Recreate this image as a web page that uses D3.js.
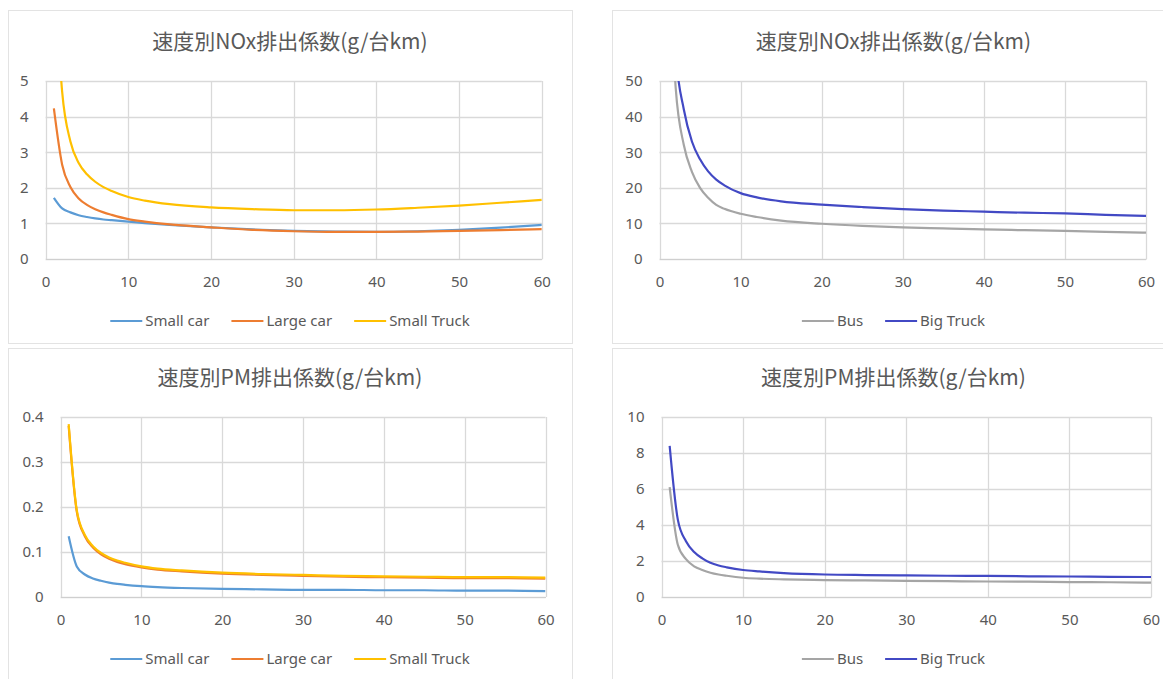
<!DOCTYPE html>
<html>
<head>
<meta charset="utf-8">
<script src="https://cdn.jsdelivr.net/npm/d3@7"></script>
<style>
  body { margin: 0; background: #fff; }
  svg { display: block; font-family: "Noto Sans CJK JP", "Noto Sans", sans-serif; }
</style>
</head>
<body>
<div id="chart"></div>
<script>
const speeds = [1, 2, 3, 4, 5, 6, 7, 8, 10, 12, 15, 20, 25, 30, 35, 40, 45, 50, 55, 60];

// NOx, small vehicles (g/台km)
const smallCarNOx   = [1.72, 1.42, 1.31, 1.23, 1.18, 1.14, 1.11, 1.09, 1.05, 1.01, 0.96, 0.89, 0.83, 0.79, 0.77, 0.76, 0.78, 0.82, 0.88, 0.96];
const largeCarNOx   = [4.23, 2.65, 2.02, 1.70, 1.52, 1.40, 1.31, 1.24, 1.12, 1.05, 0.97, 0.89, 0.82, 0.78, 0.76, 0.76, 0.77, 0.79, 0.81, 0.84];
const smallTruckNOx = [8.6, 4.7, 3.3, 2.7, 2.38, 2.17, 2.02, 1.91, 1.74, 1.64, 1.54, 1.45, 1.40, 1.37, 1.37, 1.39, 1.44, 1.50, 1.58, 1.66];

// NOx, big vehicles
const busNOx      = [95, 48, 32, 24.5, 20, 17.2, 15.2, 14.1, 12.7, 11.8, 10.8, 9.9, 9.3, 8.9, 8.6, 8.3, 8.1, 7.9, 7.6, 7.4];
const bigTruckNOx = [120, 58, 42, 33, 28, 24.6, 22.3, 20.7, 18.5, 17.3, 16.2, 15.3, 14.6, 14.0, 13.6, 13.3, 13.0, 12.8, 12.4, 12.1];

// PM, small vehicles
const smallCarPM   = [0.135, 0.068, 0.050, 0.041, 0.036, 0.032, 0.029, 0.027, 0.024, 0.022, 0.020, 0.018, 0.017, 0.016, 0.016, 0.015, 0.015, 0.014, 0.014, 0.013];
const largeCarPM   = [0.380, 0.190, 0.135, 0.110, 0.095, 0.085, 0.078, 0.073, 0.066, 0.061, 0.057, 0.052, 0.049, 0.047, 0.045, 0.044, 0.043, 0.042, 0.042, 0.041];
const smallTruckPM = [0.384, 0.193, 0.138, 0.113, 0.098, 0.088, 0.081, 0.076, 0.068, 0.063, 0.059, 0.054, 0.051, 0.049, 0.047, 0.046, 0.045, 0.044, 0.044, 0.043];

// PM, big vehicles
const busPM      = [6.1, 2.9, 2.1, 1.7, 1.5, 1.35, 1.25, 1.18, 1.07, 1.02, 0.98, 0.94, 0.92, 0.90, 0.88, 0.86, 0.85, 0.83, 0.82, 0.80];
const bigTruckPM = [8.4, 4.3, 3.1, 2.5, 2.15, 1.9, 1.75, 1.65, 1.5, 1.42, 1.33, 1.25, 1.22, 1.20, 1.18, 1.17, 1.15, 1.14, 1.12, 1.11];

// Ticks and labels
const xTicks = [0, 10, 20, 30, 40, 50, 60];
const yTicksNOxSmall = [0, 1, 2, 3, 4, 5];
const yTicksNOxBig = [0, 10, 20, 30, 40, 50];
const yTicksPMSmall = [0, 0.1, 0.2, 0.3, 0.4];
const yTicksPMBig = [0, 2, 4, 6, 8, 10];
const titleNOx = "速度別NOx排出係数(g/台km)";
const titlePM = "速度別PM排出係数(g/台km)";
const smallNames = ["Small car", "Large car", "Small Truck"];
const bigNames = ["Bus", "Big Truck"];

const colors = {
  "Small car": "#5b9bd5",
  "Large car": "#ed7d31",
  "Small Truck": "#ffc000",
  "Bus": "#a5a5a5",
  "Big Truck": "#4249c4"
};

const width = 1163;
const height = 679;
const textColor = "#595959";
const gridColor = "#d9d9d9";

const svg = d3.select("#chart")
  .append("svg")
  .attr("width", width)
  .attr("height", height);

// panel layout: outer frame + plot area
const panels = [
  { title: titleNOx, frame: {x: 8, y: 10, w: 564, h: 333}, plot: {left: 45.6, right: 541.8, top: 81, bottom: 259},
    yTicks: yTicksNOxSmall, names: smallNames, values: [smallCarNOx, largeCarNOx, smallTruckNOx] },
  { title: titleNOx, frame: {x: 612, y: 10, w: 563, h: 333}, plot: {left: 659.5, right: 1146, top: 81, bottom: 259},
    yTicks: yTicksNOxBig, names: bigNames, values: [busNOx, bigTruckNOx] },
  { title: titlePM, frame: {x: 8, y: 348, w: 564, h: 340}, plot: {left: 60.6, right: 545.5, top: 417, bottom: 597},
    yTicks: yTicksPMSmall, names: smallNames, values: [smallCarPM, largeCarPM, smallTruckPM] },
  { title: titlePM, frame: {x: 612, y: 348, w: 563, h: 340}, plot: {left: 661.5, right: 1151, top: 417, bottom: 597},
    yTicks: yTicksPMBig, names: bigNames, values: [busPM, bigTruckPM] }
];

panels.forEach((p, i) => drawPanel(p, i));

function drawPanel(p, i) {
  const g = svg.append("g");

  // frame
  g.append("rect")
    .attr("x", p.frame.x + 0.5)
    .attr("y", p.frame.y + 0.5)
    .attr("width", p.frame.w)
    .attr("height", p.frame.h)
    .attr("fill", "#fff")
    .attr("stroke", "#e3e3e3");

  const cx = p.frame.x + p.frame.w / 2;

  // title
  g.append("text")
    .attr("x", cx)
    .attr("y", p.plot.top - 32)
    .attr("text-anchor", "middle")
    .attr("fill", textColor)
    .style("font-size", "21px")
    .text(p.title);

  const x = d3.scaleLinear().domain([0, 60]).range([p.plot.left, p.plot.right]);
  const yMax = p.yTicks[p.yTicks.length - 1];
  const y = d3.scaleLinear().domain([0, yMax]).range([p.plot.bottom, p.plot.top]);

  // gridlines
  g.append("g")
    .selectAll("line.h")
    .data(p.yTicks)
    .join("line")
    .attr("x1", p.plot.left)
    .attr("x2", p.plot.right)
    .attr("y1", d => Math.round(y(d)) + 0.5)
    .attr("y2", d => Math.round(y(d)) + 0.5)
    .attr("stroke", gridColor)
    .attr("stroke-width", 1.3);

  g.append("g")
    .selectAll("line.v")
    .data(xTicks)
    .join("line")
    .attr("x1", d => Math.round(x(d)) + 0.5)
    .attr("x2", d => Math.round(x(d)) + 0.5)
    .attr("y1", p.plot.top)
    .attr("y2", p.plot.bottom)
    .attr("stroke", gridColor)
    .attr("stroke-width", 1.3);

  // axes (labels only)
  const xAxis = g.append("g")
    .attr("transform", `translate(0,${p.plot.bottom})`)
    .call(d3.axisBottom(x).tickValues(xTicks).tickSize(0).tickPadding(17));
  xAxis.select(".domain").attr("stroke", "#cfcfcf");

  const yAxis = g.append("g")
    .attr("transform", `translate(${p.plot.left},0)`)
    .call(d3.axisLeft(y).tickValues(p.yTicks).tickSize(0).tickPadding(17).tickFormat(d => String(d)));
  yAxis.select(".domain").remove();

  [xAxis, yAxis].forEach(a => {
    a.selectAll("text")
      .attr("fill", textColor)
      .style("font-size", "15px")
      .style("font-family", "'Noto Sans', sans-serif");
  });

  // clip lines to the plot area
  const clipId = "clip" + i;
  svg.append("clipPath")
    .attr("id", clipId)
    .append("rect")
    .attr("x", p.plot.left)
    .attr("y", p.plot.top)
    .attr("width", p.plot.right - p.plot.left)
    .attr("height", p.plot.bottom - p.plot.top);

  const line = d3.line()
    .x((d, k) => x(speeds[k]))
    .y(d => y(d))
    .curve(d3.curveMonotoneX);

  g.append("g")
    .attr("clip-path", `url(#${clipId})`)
    .selectAll("path")
    .data(p.values)
    .join("path")
    .attr("d", d => line(d))
    .attr("fill", "none")
    .attr("stroke", (d, k) => colors[p.names[k]])
    .attr("stroke-width", 2.2)
    .attr("stroke-linejoin", "round");

  // legend
  const legendY = p.plot.bottom + 62;
  const legend = g.append("g");
  const items = legend.selectAll("g")
    .data(p.names)
    .join("g");
  items.append("line")
    .attr("x1", 0).attr("x2", 32)
    .attr("y1", 0).attr("y2", 0)
    .attr("stroke", d => colors[d])
    .attr("stroke-width", 2.2);
  items.append("text")
    .attr("x", 35)
    .attr("y", 0)
    .attr("dy", "0.35em")
    .attr("fill", textColor)
    .style("font-size", "15px")
    .style("font-family", "'Noto Sans', sans-serif")
    .text(d => d);

  let offset = 0;
  items.each(function() {
    const w = this.getBBox().width;
    d3.select(this).attr("transform", `translate(${offset},0)`);
    offset += w + 22;
  });
  const total = offset - 22;
  legend.attr("transform", `translate(${cx - total / 2},${legendY})`);
}
</script>
</body>
</html>
